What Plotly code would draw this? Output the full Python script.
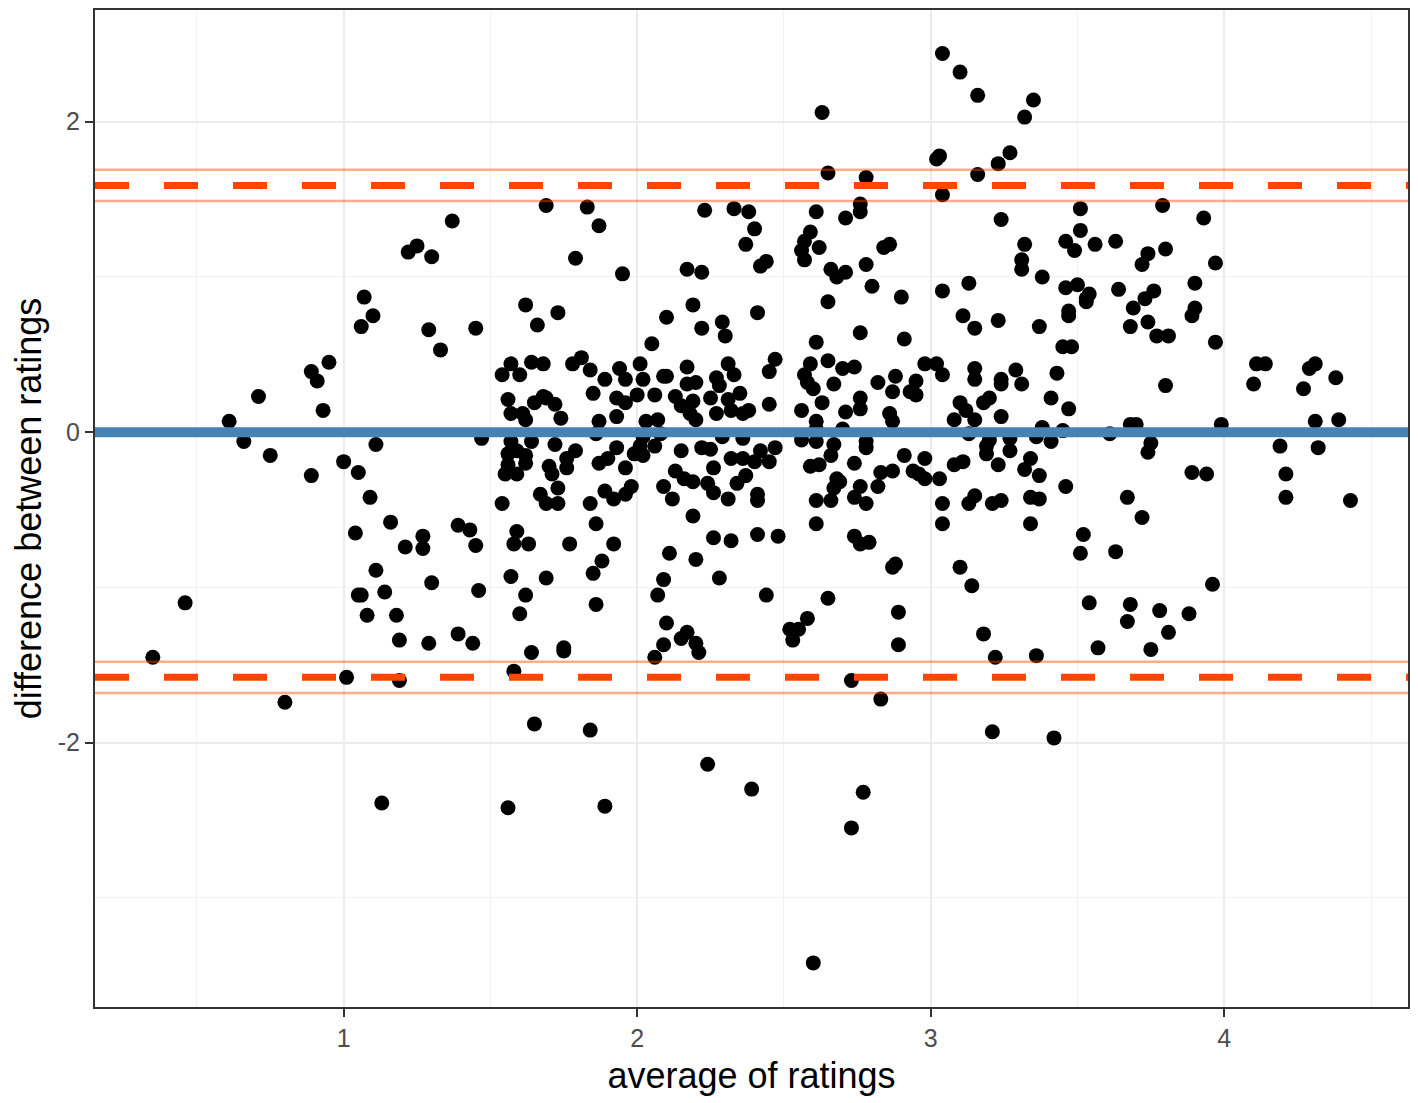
import plotly.graph_objects as go

# Bland-Altman: average of the two ratings vs their difference
avg_ratings = [
    # x < 1.5
    0.35, 0.46, 0.61, 0.66, 0.71, 0.75, 0.80, 0.89, 0.89, 0.91, 0.93, 0.95, 1.00,
    1.01, 1.04, 1.05, 1.06, 1.05, 1.06, 1.07, 1.08, 1.09, 1.10, 1.11, 1.11, 1.13,
    1.14, 1.16, 1.18, 1.19, 1.19, 1.21, 1.22, 1.25, 1.27, 1.27, 1.29, 1.29, 1.30,
    1.30, 1.33, 1.37, 1.39, 1.39, 1.43, 1.44, 1.45, 1.45, 1.46, 1.47,
    # 1.5 - 2.4, middle band
    1.54, 1.57, 1.60, 1.64, 1.68, 1.78, 1.81, 1.84, 1.89, 1.94, 1.96, 2.01, 2.02,
    2.05, 2.09, 2.10, 2.17, 2.17, 2.20, 2.27, 2.28, 2.31, 2.33, 2.30, 1.56, 1.65,
    1.68, 1.69, 1.72, 1.57, 1.61, 1.62, 1.74, 1.85, 1.87, 1.93, 1.96, 1.93, 2.00,
    2.06, 2.13, 2.15, 2.19, 2.18, 2.20, 2.25, 2.27, 2.31, 2.32, 2.35, 2.36, 2.38,
    2.03, 2.07, 1.86, 2.02, 2.08, 2.29, 2.36, 1.57, 1.64, 1.72, 1.56, 1.59, 1.62,
    1.56, 1.62, 1.55, 1.59, 1.70, 1.71, 1.76, 1.79, 1.76, 1.73, 1.67, 1.69, 1.73,
    1.54, 1.84, 1.87, 1.93, 1.90, 1.96, 1.99, 1.89, 1.92, 1.96, 1.98, 2.01, 2.06,
    2.02, 2.13, 2.15, 2.16, 2.19, 2.22, 2.25, 2.26, 2.24, 2.26, 2.32, 2.36, 2.40,
    2.34, 2.37, 2.31, 2.09, 2.12, 2.19, 1.86, 1.59, 1.58, 1.63, 1.77, 1.92, 1.88,
    2.11, 2.20, 2.26, 2.32, 2.41,
    # 1.5 - 2.4, upper
    1.69, 1.83, 1.87, 1.79, 1.95, 1.62, 1.66, 1.73, 2.23, 2.33, 2.38, 2.40, 2.37,
    2.17, 2.22, 2.19, 2.10, 2.22, 2.29, 2.41, 2.42, 2.44,
    # 2.5 - 3.6, upper
    2.63, 2.65, 2.78, 2.76, 2.76, 2.61, 2.71, 2.59, 2.57, 2.56, 2.62, 2.57, 2.86,
    2.84, 2.66, 2.68, 2.71, 2.78, 2.80, 2.90, 2.65, 2.76, 2.91, 3.04, 3.10, 3.16,
    3.35, 3.32, 3.27, 3.23, 3.02, 3.03, 3.16, 3.04, 3.24, 3.51, 3.51, 3.46, 3.49,
    3.32, 3.31, 3.31, 3.38, 3.13, 3.04, 3.11, 3.15, 3.23, 3.37, 3.46, 3.50, 3.53,
    3.47, 3.47, 3.45, 3.48,
    # 3.5 - 4, upper
    3.79, 3.93, 3.56, 3.63, 3.74, 3.72, 3.80, 3.97, 3.54, 3.53, 3.64, 3.69, 3.73,
    3.76, 3.68, 3.74, 3.77, 3.81, 3.90, 3.90, 3.89, 3.97,
    # 2.4 - 3.5, middle band
    2.61, 2.47, 2.45, 2.45, 2.59, 2.57, 2.58, 2.60, 2.65, 2.70, 2.74, 2.67, 2.63,
    2.56, 2.61, 2.71, 2.76, 2.76, 2.82, 2.88, 2.87, 2.86, 2.87, 2.93, 2.95, 2.98,
    3.02, 3.04, 2.95, 3.10, 3.12, 3.08, 3.15, 3.15, 3.15, 3.24, 3.24, 3.29, 3.31,
    3.20, 3.18, 3.24, 3.43, 3.41, 3.47, 3.38, 3.45, 3.41, 3.36, 3.13, 3.20, 3.27,
    2.70, 2.61, 2.56, 2.61, 2.67, 2.78, 2.78, 2.66, 2.47, 2.42, 2.45, 2.41, 2.41,
    2.59, 2.62, 2.74, 2.68, 2.69, 2.67, 2.76, 2.83, 2.87, 2.82, 2.91, 2.94, 2.96,
    2.98, 2.98, 3.03, 2.61, 2.66, 2.74, 2.78, 2.61, 2.48, 2.74, 2.79, 2.76, 2.88,
    2.87, 3.04, 3.04, 3.08, 3.11, 3.13, 3.15, 3.19, 3.19, 3.27, 3.23, 3.21, 3.24,
    3.32, 3.34, 3.37, 3.34, 3.37, 3.34, 3.46, 3.52, 3.51, 3.10,
    # 3.6 - 4.5, middle band
    4.11, 4.14, 4.10, 4.29, 4.31, 4.27, 4.38, 3.80, 3.68, 3.70, 3.61, 3.99, 4.31,
    4.39, 3.75, 3.74, 4.19, 4.32, 3.89, 3.94, 4.21, 4.21, 4.43, 3.67, 3.72, 3.63,
    # lower
    1.57, 1.69, 1.62, 1.60, 1.64, 1.75, 1.75, 1.58, 1.65, 1.84, 1.56, 1.85, 1.86,
    1.89, 2.09, 2.07, 2.10, 2.17, 2.15, 2.09, 2.06, 2.20, 2.21, 2.28, 2.24, 2.39,
    2.44, 2.52, 2.55, 2.53, 2.58, 2.65, 2.89, 2.89, 2.73, 2.83, 2.77, 2.73, 2.60,
    3.14, 3.18, 3.22, 3.36, 3.21, 3.42, 3.54, 3.57, 3.68, 3.67, 3.78, 3.81, 3.75,
    3.88, 3.96,
]

diff_ratings = [
    # x < 1.5
    -1.45, -1.10, 0.07, -0.06, 0.23, -0.15, -1.74, 0.39, -0.28, 0.33, 0.14, 0.45, -0.19,
    -1.58, -0.65, -1.05, -1.05, -0.26, 0.68, 0.87, -1.18, -0.42, 0.75, -0.89, -0.08, -2.39,
    -1.03, -0.58, -1.18, -1.34, -1.60, -0.74, 1.16, 1.20, -0.67, -0.75, 0.66, -1.36, -0.97,
    1.13, 0.53, 1.36, -0.60, -1.30, -0.63, -1.36, 0.67, -0.73, -1.02, -0.04,
    # 1.5 - 2.4, middle band
    0.37, 0.44, 0.37, 0.45, 0.44, 0.44, 0.48, 0.40, 0.34, 0.41, 0.34, 0.44, 0.34,
    0.57, 0.36, 0.36, 0.42, 0.31, 0.32, 0.35, 0.30, 0.44, 0.37, 0.62, 0.21, 0.19,
    0.23, 0.22, 0.18, 0.12, 0.12, 0.08, 0.09, 0.25, 0.07, 0.22, 0.19, 0.10, 0.24,
    0.24, 0.23, 0.17, 0.20, 0.12, 0.08, 0.22, 0.12, 0.21, 0.14, 0.25, 0.12, 0.14,
    0.07, 0.08, -0.01, -0.03, -0.01, -0.03, -0.04, -0.06, -0.06, -0.08, -0.14, -0.12, -0.15,
    -0.21, -0.20, -0.27, -0.27, -0.22, -0.27, -0.17, -0.12, -0.23, -0.36, -0.40, -0.46, -0.46,
    -0.46, -0.46, -0.20, -0.10, -0.17, -0.23, -0.14, -0.38, -0.43, -0.40, -0.35, -0.09, -0.09,
    -0.15, -0.25, -0.12, -0.30, -0.32, -0.10, -0.11, -0.23, -0.33, -0.39, -0.17, -0.17, -0.19,
    -0.33, -0.28, -0.43, -0.35, -0.43, -0.54, -0.59, -0.64, -0.72, -0.72, -0.72, -0.72, -0.83,
    -0.78, -0.82, -0.68, -0.70, -0.66,
    # 1.5 - 2.4, upper
    1.46, 1.45, 1.33, 1.12, 1.02, 0.82, 0.69, 0.77, 1.43, 1.44, 1.42, 1.31, 1.21,
    1.05, 1.03, 0.82, 0.74, 0.67, 0.71, 0.77, 1.07, 1.10,
    # 2.5 - 3.6, upper
    2.06, 1.67, 1.64, 1.47, 1.42, 1.42, 1.38, 1.29, 1.23, 1.17, 1.19, 1.11, 1.21,
    1.19, 1.05, 1.00, 1.03, 1.08, 0.94, 0.87, 0.84, 0.64, 0.60, 2.44, 2.32, 2.17,
    2.14, 2.03, 1.80, 1.73, 1.76, 1.78, 1.66, 1.53, 1.37, 1.44, 1.30, 1.23, 1.17,
    1.21, 1.11, 1.05, 1.00, 0.96, 0.91, 0.75, 0.67, 0.72, 0.68, 0.93, 0.95, 0.84,
    0.78, 0.75, 0.55, 0.55,
    # 3.5 - 4, upper
    1.46, 1.38, 1.21, 1.23, 1.15, 1.08, 1.18, 1.09, 0.89, 0.86, 0.92, 0.80, 0.86,
    0.91, 0.68, 0.71, 0.62, 0.62, 0.96, 0.80, 0.75, 0.58,
    # 2.4 - 3.5, middle band
    0.58, 0.47, 0.39, 0.18, 0.44, 0.37, 0.32, 0.28, 0.46, 0.41, 0.42, 0.31, 0.19,
    0.14, 0.07, 0.13, 0.22, 0.15, 0.32, 0.36, 0.26, 0.12, 0.07, 0.26, 0.33, 0.44,
    0.44, 0.37, 0.24, 0.19, 0.14, 0.08, 0.08, 0.41, 0.34, 0.34, 0.31, 0.40, 0.31,
    0.22, 0.19, 0.10, 0.38, 0.22, 0.15, 0.03, 0.01, -0.06, -0.03, -0.01, -0.05, -0.04,
    0.02, 0.02, -0.05, -0.06, -0.08, -0.06, -0.10, -0.15, -0.10, -0.12, -0.19, -0.40, -0.44,
    -0.22, -0.21, -0.20, -0.30, -0.32, -0.36, -0.35, -0.26, -0.25, -0.35, -0.15, -0.25, -0.27,
    -0.30, -0.17, -0.30, -0.44, -0.44, -0.42, -0.46, -0.59, -0.67, -0.67, -0.71, -0.72, -0.85,
    -0.87, -0.46, -0.59, -0.21, -0.19, -0.46, -0.41, -0.09, -0.14, -0.12, -0.21, -0.46, -0.44,
    -0.24, -0.17, -0.28, -0.42, -0.43, -0.59, -0.35, -0.66, -0.78, -0.87,
    # 3.6 - 4.5, middle band
    0.44, 0.44, 0.31, 0.41, 0.44, 0.28, 0.35, 0.30, 0.05, 0.05, -0.01, 0.05, 0.07,
    0.08, -0.07, -0.13, -0.09, -0.10, -0.26, -0.27, -0.27, -0.42, -0.44, -0.42, -0.55, -0.77,
    # lower
    -0.93, -0.94, -1.05, -1.17, -1.42, -1.39, -1.41, -1.54, -1.88, -1.92, -2.42, -0.91, -1.11,
    -2.41, -0.95, -1.05, -1.23, -1.29, -1.33, -1.37, -1.45, -1.36, -1.42, -0.94, -2.14, -2.30,
    -1.05, -1.27, -1.27, -1.34, -1.20, -1.07, -1.16, -1.37, -1.60, -1.72, -2.32, -2.55, -3.42,
    -0.99, -1.30, -1.45, -1.44, -1.93, -1.97, -1.10, -1.39, -1.11, -1.22, -1.15, -1.29, -1.40,
    -1.17, -0.98,
]

mean_diff = 0.0
loa_upper = 1.59
loa_lower = -1.58
loa_ci = 0.10

fig = go.Figure()
fig.add_trace(go.Scatter(x=avg_ratings, y=diff_ratings, mode="markers",
                         marker=dict(color="black", size=15), showlegend=False))

# limits of agreement with their confidence band, then the mean difference
for lim in [loa_upper, loa_lower]:
    fig.add_hline(y=lim + loa_ci, line=dict(color="rgba(255,69,0,0.45)", width=2.5))
    fig.add_hline(y=lim - loa_ci, line=dict(color="rgba(255,69,0,0.45)", width=2.5))
    fig.add_hline(y=lim, line=dict(color="#FF4500", width=7, dash="34px,35px"))
fig.add_hline(y=mean_diff, line=dict(color="#4682B4", width=10))

axis_style = dict(showgrid=True, gridcolor="#EBEBEB", gridwidth=1.6, zeroline=False,
                  showline=True, mirror=True, linecolor="#333333", linewidth=2,
                  ticks="outside", ticklen=8, tickwidth=2, tickcolor="#333333",
                  tickfont=dict(size=25, color="#4D4D4D"))

# the page has an 8px body margin, so the figure is a bit smaller than the window
fig.update_layout(
    width=1402, height=1095,
    margin=dict(l=87, r=0, t=0, b=96),
    plot_bgcolor="white", paper_bgcolor="white",
    font=dict(family="Liberation Sans, Arial, sans-serif", color="black"),
    xaxis=dict(range=[0.153, 4.626], tickvals=[1, 2, 3, 4],
               minor=dict(tickvals=[0.5, 1.5, 2.5, 3.5, 4.5], showgrid=True,
                          gridcolor="#F2F2F2", gridwidth=0.8),
               title=dict(text="average of ratings", font=dict(size=36), standoff=12),
               **axis_style),
    yaxis=dict(range=[-3.704, 2.72], tickvals=[-2, 0, 2], ticktext=["-2", "0", "2"],
               minor=dict(tickvals=[-3, -1, 1], showgrid=True,
                          gridcolor="#F2F2F2", gridwidth=0.8),
               title=dict(text="difference between ratings", font=dict(size=36), standoff=15),
               **axis_style),
)

fig.write_html("out.html")
